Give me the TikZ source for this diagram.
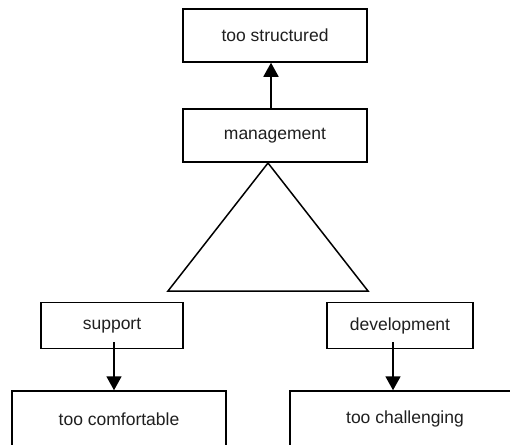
\documentclass[tikz,border=0pt]{standalone}
\usepackage{fontspec}
\setmainfont{Liberation Sans}
\usetikzlibrary{arrows.meta}
\tikzset{
  box/.style={draw, line width=1.5pt, rectangle, inner sep=0pt, font=\fontsize{17.5}{20}\selectfont, text=black!88},
  arr/.style={line width=1.8pt, -{Triangle[length=14pt,width=15pt]}},
  tri/.style={line width=1.5pt, line join=miter}
}
\begin{document}
\begin{tikzpicture}[x=1pt,y=-1pt]
\useasboundingbox (0,0) rectangle (510,444);
\fill[white] (0,0) rectangle (510,444);
\clip (0,0) rectangle (510,444);
\node[box, minimum width=184pt, minimum height=53pt] (ts) at (275,35.5) {too structured};
\node[box, minimum width=184pt, minimum height=53pt] (mg) at (275,135.5) {management};
\node[box, minimum width=142pt, minimum height=46pt] (sp) at (112,325.5) {support};
\node[box, minimum width=146pt, minimum height=46pt] (dv) at (400,325.5) {development};
\node[box, minimum width=214pt, minimum height=56pt] (tc) at (119,419) {too comfortable};
\node[box, minimum width=230pt, minimum height=56pt] (tch) at (405,419) {too challenging};
\coordinate (apex) at (268,163);
\coordinate (bl) at (168,291);
\coordinate (br) at (368,291);
\draw[tri] (apex) -- (bl) -- (br) -- cycle;
\coordinate (ma) at (271,0);
\coordinate (sa) at (114,0);
\coordinate (da) at (393,0);
\draw[arr] (mg.north -| ma) -- (ts.south -| ma);
\draw[arr] ([yshift=7pt]sp.south -| sa) -- (tc.north -| sa);
\draw[arr] ([yshift=7pt]dv.south -| da) -- (tch.north -| da);
\end{tikzpicture}
\end{document}
